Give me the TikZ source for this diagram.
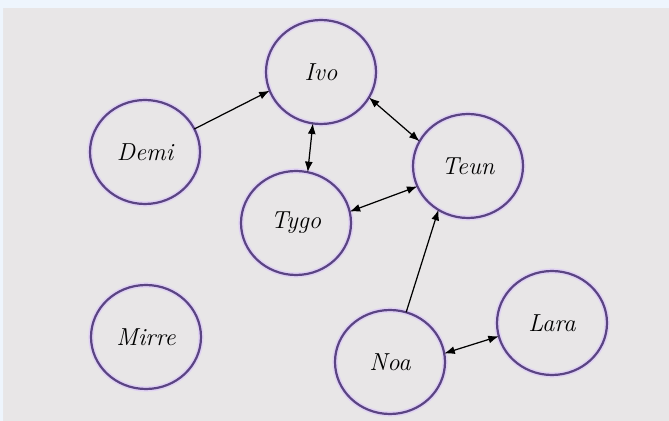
\documentclass[tikz,border=0pt]{standalone}
\usepackage{amsmath, amssymb}
\usepackage{tikz}
\usetikzlibrary{shapes.geometric, arrows.meta}

\definecolor{bggray}{HTML}{E8E6E7}
\definecolor{bgblue}{HTML}{EEF5FD}
\definecolor{ringpurple}{HTML}{5A4482}
\definecolor{ringglow}{HTML}{E0D2F4}

\begin{document}
\begin{tikzpicture}[x=0.02cm, y=-0.02cm,
    person/.style={ellipse, draw=ringpurple, line width=1.25pt, minimum width=2.2cm, minimum height=2.08cm,
      outer sep=0pt, inner sep=0pt, font=\fontsize{14}{16}\selectfont\itshape,
      preaction={draw=ringglow, line width=3pt}},
    link/.style={line width=0.7pt, -{Latex[length=6pt, width=4.5pt]}},
    twolink/.style={line width=0.7pt, {Latex[length=6pt, width=4.5pt]}-{Latex[length=6pt, width=4.5pt]}}]
    \fill[bggray] (0,0) rectangle (669,421);
    \fill[bgblue] (0,0) rectangle (669,8) (0,0) rectangle (3,421);
    \node[person] (ivo) at (321,72) {Ivo};
    \node[person] (demi) at (145,152) {Demi};
    \node[person] (teun) at (468,166) {Teun};
    \node[person] (tygo) at (296,223) {Tygo};
    \node[person] (mirre) at (146,337) {Mirre};
    \node[person] (noa) at (390,362) {Noa};
    \node[person] (lara) at (552,323) {Lara};
    \draw[link] (demi.25) -- (ivo.200);
    \draw[twolink] (ivo.261) -- (tygo.77);
    \draw[twolink] (ivo.332) -- (teun.153);
    \draw[twolink] (tygo.12) -- (teun.202);
    \draw[link] (noa.72) -- (teun.236);
    \draw[twolink] (noa.9) -- (lara.194);
\end{tikzpicture}
\end{document}
